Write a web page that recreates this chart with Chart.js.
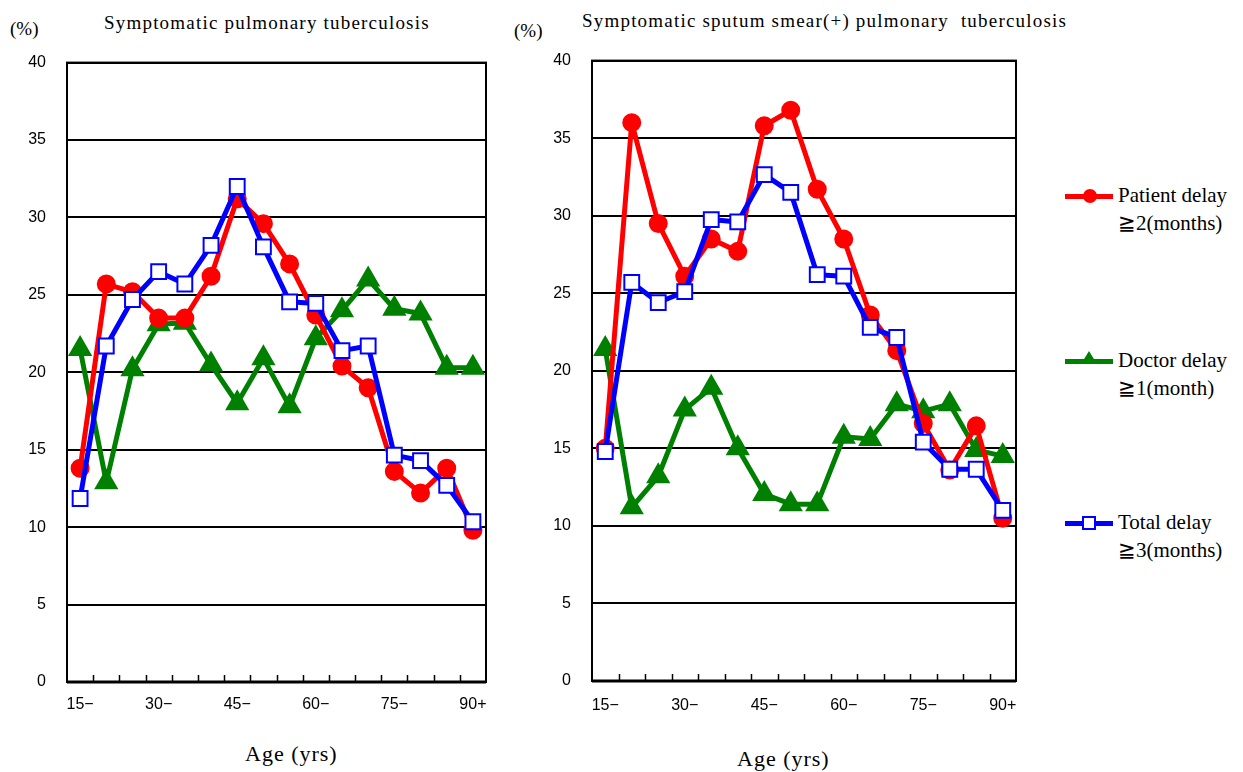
<!DOCTYPE html>
<html>
<head>
<meta charset="utf-8">
<script src="https://cdn.jsdelivr.net/npm/chart.js@4.4.1/dist/chart.umd.min.js"></script>
<style>
  body { margin: 0; background: #fff; width: 1243px; height: 772px; position: relative; overflow: hidden; }
  .txt { position: absolute; font-family: 'Liberation Serif', 'Times New Roman', serif; color: #000; white-space: nowrap; }
  .pct { font-size: 19px; }
  .title { font-size: 19px; letter-spacing: 1.2px; }
  .axis { font-size: 22px; letter-spacing: 1px; }
  .leg { font-size: 21px; line-height: 28px; }
  canvas { position: absolute; }
  .sym { position: absolute; width: 48px; height: 5px; }
</style>
</head>
<body>
<div class="txt pct" style="left:10px; top:18px;">(%)</div>
<div class="txt title" style="left:104px; top:12px;">Symptomatic pulmonary tuberculosis</div>
<div class="txt pct" style="left:514px; top:20px;">(%)</div>
<div class="txt title" style="left:582px; top:10px;">Symptomatic sputum smear(+) pulmonary&nbsp; tuberculosis</div>
<div class="txt axis" style="left:245px; top:741px;">Age (yrs)</div>
<div class="txt axis" style="left:737px; top:746px;">Age (yrs)</div>

<div style="position:absolute; left:0; top:32px; width:500px; height:700px;"><canvas id="leftChart"></canvas></div>
<div style="position:absolute; left:520px; top:30px; width:510px; height:701px;"><canvas id="rightChart"></canvas></div>

<div class="sym" style="left:1065px; top:194px; background:#ff0000;"></div>
<div style="position:absolute; left:1083px; top:189px; width:14px; height:14px; border-radius:50%; background:#ff0000;"></div>
<div class="txt leg" style="left:1118px; top:181px;">Patient delay<br>&#8807;2(months)</div>

<div class="sym" style="left:1065px; top:359px; background:#008000;"></div>
<div style="position:absolute; left:1081px; top:351px; width:0; height:0; border-left:8px solid transparent; border-right:8px solid transparent; border-bottom:13px solid #008000;"></div>
<div class="txt leg" style="left:1118px; top:346px;">Doctor delay<br>&#8807;1(month)</div>

<div class="sym" style="left:1065px; top:521px; background:#0000ff;"></div>
<div style="position:absolute; left:1082px; top:516px; width:10px; height:10px; border:2px solid #0000ff; background:#fff;"></div>
<div class="txt leg" style="left:1118px; top:508px;">Total delay<br>&#8807;3(months)</div>

<script>
const ageLabels = ['15−', '20−', '25−', '30−', '35−', '40−', '45−', '50−', '55−', '60−', '65−', '70−', '75−', '80−', '85−', '90+'];
const yTicks = [0, 5, 10, 15, 20, 25, 30, 35, 40];

// Symptomatic pulmonary tuberculosis
const leftPatient = [13.8, 25.7, 25.2, 23.5, 23.5, 26.2, 31.2, 29.6, 27.0, 23.7, 20.4, 19.0, 13.6, 12.2, 13.8, 9.8];
const leftDoctor = [21.5, 12.9, 20.2, 23.1, 23.2, 20.5, 18.0, 20.9, 17.8, 22.2, 24.0, 26.0, 24.1, 23.8, 20.3, 20.3];
const leftTotal = [11.85, 21.7, 24.7, 26.5, 25.7, 28.2, 32.0, 28.1, 24.55, 24.45, 21.4, 21.7, 14.65, 14.3, 12.7, 10.35];

// Symptomatic sputum smear(+) pulmonary tuberculosis
const rightPatient = [15.0, 36.0, 29.5, 26.1, 28.5, 27.7, 35.8, 36.8, 31.7, 28.5, 23.6, 21.3, 16.6, 13.6, 16.45, 10.5];
const rightDoctor = [21.4, 11.2, 13.2, 17.5, 18.9, 15.0, 12.05, 11.4, 11.4, 15.75, 15.6, 17.85, 17.4, 17.85, 14.9, 14.5];
const rightTotal = [14.8, 25.7, 24.4, 25.1, 29.75, 29.6, 32.65, 31.5, 26.2, 26.1, 22.8, 22.15, 15.4, 13.65, 13.65, 11.0];

const tickFont = { family: "'Liberation Sans', Arial, sans-serif", size: 16 };

// box round the plot area, and the small ticks between age groups
const frameBox = {
    id: 'frameBox',
    afterDraw(chart) {
        const a = chart.chartArea;
        const c = chart.ctx;
        const xs = chart.scales.x;
        c.save();
        c.strokeStyle = '#000';
        c.lineWidth = 2;
        c.strokeRect(a.left, a.top, a.right - a.left, a.bottom - a.top);
        c.lineWidth = 1.5;
        c.beginPath();
        for (let i = 0; i < ageLabels.length - 1; i++) {
            const x = Math.round((xs.getPixelForValue(i) + xs.getPixelForValue(i + 1)) / 2) + 0.5;
            c.moveTo(x, a.bottom);
            c.lineTo(x, a.bottom - 7);
        }
        c.stroke();
        c.lineWidth = 3;
        c.beginPath();
        c.moveTo(a.left, a.bottom);
        c.lineTo(a.right, a.bottom);
        c.stroke();
        c.restore();
    }
};

function makeChart(id, patient, doctor, total, yAxisWidth, pad, labelPad) {
    const ctx = document.getElementById(id).getContext('2d');
    return new Chart(ctx, {
        type: 'line',
        data: {
            labels: ageLabels,
            datasets: [
                {
                    label: 'Total delay ≧3(months)',
                    data: total,
                    borderColor: '#0000ff',
                    borderWidth: 5,
                    borderJoinStyle: 'round',
                    pointStyle: 'rect',
                    pointRadius: 10.5,
                    pointBorderWidth: 2,
                    pointBackgroundColor: '#ffffff',
                    pointBorderColor: '#0000ff',
                    order: 1
                },
                {
                    label: 'Patient delay ≧2(months)',
                    data: patient,
                    borderColor: '#ff0000',
                    borderWidth: 5,
                    borderJoinStyle: 'round',
                    pointStyle: 'circle',
                    pointRadius: 7,
                    pointBackgroundColor: '#ff0000',
                    pointBorderColor: '#ff0000',
                    order: 2
                },
                {
                    label: 'Doctor delay ≧1(month)',
                    data: doctor,
                    borderColor: '#008000',
                    borderWidth: 5,
                    borderJoinStyle: 'round',
                    pointStyle: 'triangle',
                    pointRadius: 9,
                    pointBackgroundColor: '#008000',
                    pointBorderColor: '#008000',
                    order: 3
                }
            ]
        },
        options: {
            responsive: true,
            maintainAspectRatio: false,
            animation: false,
            layout: { padding: pad },
            plugins: { legend: { display: false }, tooltip: { enabled: false } },
            elements: { line: { tension: 0 } },
            scales: {
                x: {
                    offset: true,
                    grid: { display: false },
                    border: { display: false },
                    ticks: {
                        autoSkip: false,
                        maxRotation: 0,
                        color: '#000',
                        font: tickFont,
                        padding: labelPad,
                        callback: function (v, i) { return i % 3 === 0 ? ageLabels[i] : ''; }
                    },
                    afterFit: function (s) { s.height = 50; }
                },
                y: {
                    min: 0,
                    max: 40,
                    afterBuildTicks: function (s) { s.ticks = yTicks.map(v => ({ value: v })); },
                    grid: { color: '#000', lineWidth: 2, drawTicks: false },
                    border: { display: false },
                    ticks: { color: '#000', font: tickFont, padding: 21 },
                    afterFit: function (s) { s.width = yAxisWidth; }
                }
            }
        },
        plugins: [frameBox]
    });
}

makeChart('leftChart', leftPatient, leftDoctor, leftTotal, 67, { top: 12, right: 12, left: 0, bottom: 0 }, 5);
makeChart('rightChart', rightPatient, rightDoctor, rightTotal, 72, { top: 11, right: 13, left: 0, bottom: 0 }, 7);
</script>
</body>
</html>
